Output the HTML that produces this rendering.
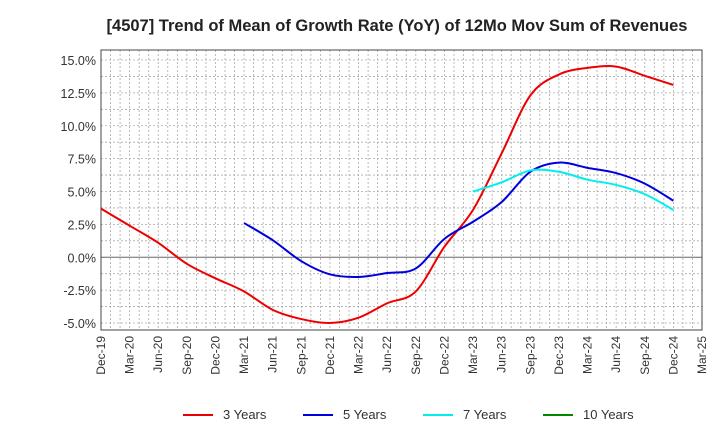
<!DOCTYPE html>
<html><head><meta charset="utf-8"><style>
body{margin:0;background:#fff;font-family:"Liberation Sans",sans-serif}
</style></head><body>
<svg id="c" width="720" height="440" xmlns="http://www.w3.org/2000/svg"></svg>
<script>
const categories=["Dec-19","Mar-20","Jun-20","Sep-20","Dec-20","Mar-21","Jun-21","Sep-21","Dec-21","Mar-22","Jun-22","Sep-22","Dec-22","Mar-23","Jun-23","Sep-23","Dec-23","Mar-24","Jun-24","Sep-24","Dec-24","Mar-25"];
const yTicks=[-5,-2.5,0,2.5,5,7.5,10,12.5,15];
const yTickLabels=["-5.0%","-2.5%","0.0%","2.5%","5.0%","7.5%","10.0%","12.5%","15.0%"];
const s3=[3.7,2.4,1.1,-0.5,-1.6,-2.6,-4.0,-4.7,-5.0,-4.6,-3.5,-2.6,0.8,3.6,7.9,12.3,13.9,14.4,14.5,13.8,13.1];
const s5=[null,null,null,null,null,2.6,1.3,-0.3,-1.3,-1.5,-1.2,-0.85,1.4,2.7,4.2,6.5,7.2,6.8,6.4,5.6,4.3];
const s7=[null,null,null,null,null,null,null,null,null,null,null,null,null,5.0,5.7,6.6,6.5,5.9,5.5,4.8,3.6];
const s10=[];
const seriesNames=["3 Years","5 Years","7 Years","10 Years"];
const colors=["#ee0000","#0000dd","#00eeee","#008800"];
const L=101,R=702,T=50,B=330;
const X=i=>L+i*(R-L)/21;
const Y=v=>60+(15-v)*(323-60)/20;
const svg=document.getElementById('c');const NS="http://www.w3.org/2000/svg";
function mk(t,a,p){const e=document.createElementNS(NS,t);for(const k in a)e.setAttribute(k,a[k]);(p||svg).appendChild(e);return e;}
let e=mk('text',{x:397,y:31,'text-anchor':'middle','font-size':16.5,'font-weight':'bold',fill:'#222'});e.textContent="[4507]  Trend of Mean of Growth Rate (YoY) of 12Mo Mov Sum of Revenues";

const g=mk('g',{});
for(let m=1;m<63;m++){const x=L+m*(R-L)/63;mk('line',{x1:x,x2:x,y1:T,y2:B,stroke:'#aaa','stroke-dasharray':'2,2','stroke-width':0.8},g);}
for(let v=-5;v<=15;v+=1.25){if(v===0)continue;mk('line',{x1:L,x2:R,y1:Y(v),y2:Y(v),stroke:'#aaa','stroke-dasharray':'2,2','stroke-width':0.8},g);}
mk('line',{x1:L,x2:R,y1:Y(0),y2:Y(0),stroke:'#666','stroke-width':1},g);
e=mk('rect',{x:L,y:T,width:R-L,height:B-T,fill:'none',stroke:'#444'});
yTicks.forEach((v,i)=>{const t=mk('text',{x:96,y:Y(v)+5,'text-anchor':'end','font-size':12.5,fill:'#333'});t.textContent=yTickLabels[i];
});
categories.forEach((c,i)=>{const x=X(i);const t=mk('text',{transform:`translate(${x+4},${B+6}) rotate(-90)`,'text-anchor':'end','font-size':12,fill:'#333'});t.textContent=c;
});
function path(arr){const pts=[];arr.forEach((v,i)=>{if(v!=null)pts.push([X(i),Y(v)]);});if(pts.length<2)return '';
let d=`M${pts[0][0]},${pts[0][1]}`;for(let i=0;i<pts.length-1;i++){const p0=pts[i-1]||pts[i],p1=pts[i],p2=pts[i+1],p3=pts[i+2]||p2;
d+=` C${p1[0]+(p2[0]-p0[0])/6},${p1[1]+(p2[1]-p0[1])/6} ${p2[0]-(p3[0]-p1[0])/6},${p2[1]-(p3[1]-p1[1])/6} ${p2[0]},${p2[1]}`;}return d;}
[s3,s5,s7,s10].forEach((s,k)=>{const d=path(s);if(!d)return;const p=mk('path',{d,fill:'none',stroke:colors[k],'stroke-width':2});
});
const lx=[183,303,423,543];
seriesNames.forEach((n,k)=>{const lg=mk('g',{});
mk('line',{x1:lx[k],x2:lx[k]+30,y1:415,y2:415,stroke:colors[k],'stroke-width':2},lg);
const t=mk('text',{x:lx[k]+40,y:419,'font-size':13,fill:'#333'},lg);t.textContent=n;});
</script>
</body></html>
